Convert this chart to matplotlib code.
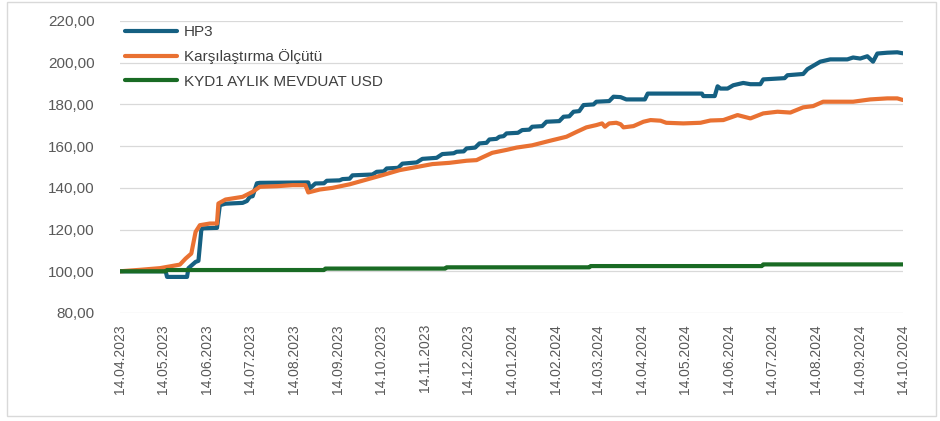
import numpy as np
import pandas as pd
import matplotlib
matplotlib.use('Agg')
import matplotlib.pyplot as plt
import matplotlib.dates as mdates
from matplotlib.patches import Rectangle
from matplotlib.ticker import FuncFormatter

plt.rcParams['font.family'] = ['Liberation Sans', 'DejaVu Sans']

# Fon getirileri (14.04.2023 = 100)
hp3_dates = [
    '2023-04-14', '2023-05-16', '2023-05-17', '2023-05-31', '2023-06-01', '2023-06-06',
    '2023-06-08', '2023-06-10', '2023-06-11', '2023-06-21', '2023-06-23', '2023-06-27',
    '2023-07-09', '2023-07-12', '2023-07-14', '2023-07-16', '2023-07-19', '2023-07-21',
    '2023-08-24', '2023-08-25', '2023-08-29', '2023-09-04', '2023-09-06', '2023-09-15',
    '2023-09-17', '2023-09-22', '2023-09-24', '2023-10-08', '2023-10-11', '2023-10-16',
    '2023-10-18', '2023-10-26', '2023-10-29', '2023-11-08', '2023-11-12', '2023-11-22',
    '2023-11-26', '2023-12-04', '2023-12-06', '2023-12-11', '2023-12-13', '2023-12-19',
    '2023-12-22', '2023-12-27', '2023-12-29', '2024-01-03', '2024-01-05', '2024-01-08',
    '2024-01-10', '2024-01-18', '2024-01-21', '2024-01-26', '2024-01-28', '2024-02-04',
    '2024-02-07', '2024-02-16', '2024-02-19', '2024-02-23', '2024-02-26', '2024-03-01',
    '2024-03-04', '2024-03-11', '2024-03-13', '2024-03-22', '2024-03-25', '2024-03-30',
    '2024-04-03', '2024-04-16', '2024-04-18', '2024-05-26', '2024-05-27', '2024-06-04',
    '2024-06-06', '2024-06-08', '2024-06-13', '2024-06-17', '2024-06-24', '2024-06-29',
    '2024-07-06', '2024-07-08', '2024-07-18', '2024-07-23', '2024-07-25', '2024-08-05',
    '2024-08-08', '2024-08-17', '2024-08-24', '2024-09-05', '2024-09-09', '2024-09-14',
    '2024-09-19', '2024-09-23', '2024-09-26', '2024-10-03', '2024-10-10', '2024-10-14',
]
hp3_values = [
    100.0, 100.0, 97.3, 97.3, 101.5, 104.5,
    105.0, 119.7, 120.6, 120.8, 131.7, 132.4,
    132.8, 133.7, 135.7, 136.0, 142.2, 142.4,
    142.6, 139.7, 142.1, 142.2, 143.4, 143.6,
    144.2, 144.4, 146.0, 146.4, 147.7, 147.9,
    149.3, 149.6, 151.6, 152.2, 153.9, 154.4,
    156.2, 156.6, 157.3, 157.5, 158.9, 159.3,
    161.3, 161.6, 163.2, 163.5, 164.5, 164.8,
    166.1, 166.4, 167.7, 167.9, 169.3, 169.6,
    171.7, 172.0, 174.1, 174.3, 176.5, 176.8,
    179.7, 180.0, 181.3, 181.6, 183.7, 183.5,
    182.4, 182.4, 185.2, 185.2, 184.0, 184.0,
    188.7, 187.6, 187.6, 189.2, 190.3, 189.7,
    189.7, 192.0, 192.4, 192.6, 194.0, 194.6,
    196.9, 200.5, 201.6, 201.6, 202.5, 202.0,
    203.1, 200.5, 204.4, 204.8, 205.0, 204.5,
]

bench_dates = [
    '2023-04-14', '2023-04-28', '2023-05-12', '2023-05-26', '2023-05-30', '2023-06-03',
    '2023-06-06', '2023-06-09', '2023-06-16', '2023-06-21', '2023-06-22', '2023-06-27',
    '2023-07-09', '2023-07-16', '2023-07-21', '2023-08-02', '2023-08-13', '2023-08-22',
    '2023-08-24', '2023-09-01', '2023-09-10', '2023-09-22', '2023-10-04', '2023-10-15',
    '2023-10-27', '2023-11-08', '2023-11-19', '2023-12-01', '2023-12-13', '2023-12-20',
    '2023-12-24', '2023-12-31', '2024-01-10', '2024-01-17', '2024-01-28', '2024-02-09',
    '2024-02-21', '2024-02-28', '2024-03-06', '2024-03-13', '2024-03-17', '2024-03-19',
    '2024-03-22', '2024-03-27', '2024-03-30', '2024-04-01', '2024-04-08', '2024-04-15',
    '2024-04-20', '2024-04-27', '2024-05-01', '2024-05-13', '2024-05-25', '2024-06-01',
    '2024-06-10', '2024-06-20', '2024-06-29', '2024-07-08', '2024-07-18', '2024-07-27',
    '2024-08-05', '2024-08-12', '2024-08-19', '2024-08-29', '2024-09-09', '2024-09-21',
    '2024-10-03', '2024-10-10', '2024-10-14',
]
bench_values = [
    100.0, 100.7, 101.5, 103.2, 106.1, 108.5,
    118.9, 122.1, 122.9, 122.9, 132.5, 134.4,
    135.7, 138.1, 140.5, 140.8, 141.3, 141.3,
    137.8, 139.2, 140.0, 141.7, 144.0, 146.1,
    148.5, 150.0, 151.4, 152.0, 153.0, 153.3,
    154.6, 156.8, 158.2, 159.3, 160.4, 162.5,
    164.5, 166.8, 169.0, 170.1, 170.9, 169.3,
    170.9, 171.2, 170.5, 169.0, 169.6, 171.7,
    172.5, 172.2, 171.2, 170.9, 171.2, 172.3,
    172.5, 174.9, 173.3, 175.7, 176.5, 176.1,
    178.6, 179.2, 181.3, 181.3, 181.3, 182.4,
    182.9, 182.9, 182.1,
]

kyd_dates = [
    '2023-04-14', '2023-05-16', '2023-05-17', '2023-09-04', '2023-09-05', '2023-11-28',
    '2023-11-29', '2024-03-08', '2024-03-09', '2024-07-07', '2024-07-08', '2024-10-14',
]
kyd_values = [
    100.0, 100.0, 100.6, 100.6, 101.3, 101.3,
    101.9, 101.9, 102.5, 102.5, 103.3, 103.3,
]

series_labels = ['HP3', 'Karşılaştırma Ölçütü', 'KYD1 AYLIK MEVDUAT USD']
series_colors = ['#156082', '#E97132', '#196B24']

tick_dates = pd.date_range('2023-04-14', '2024-10-14', freq=pd.DateOffset(months=1))
y_ticks = [80, 100, 120, 140, 160, 180, 200, 220]

fig = plt.figure(figsize=(9.4, 4.21), dpi=100)
ax = fig.add_axes([120 / 940, 1 - 313 / 421, 783 / 940, 292 / 421])

# thin grey frame around the whole chart
fig.patches.append(Rectangle((7 / 940, 1 - 416 / 421), 929 / 940, 414 / 421,
                             transform=fig.transFigure, fill=False,
                             edgecolor='#D9D9D9', linewidth=1.0))

all_series = [(hp3_dates, hp3_values), (bench_dates, bench_values), (kyd_dates, kyd_values)]
for (d, v), lab, col in zip(all_series, series_labels, series_colors):
    ax.plot(pd.to_datetime(d), v, color=col, lw=3.0, label=lab,
            solid_capstyle='round', solid_joinstyle='round')

ax.set_xlim(pd.Timestamp('2023-04-14'), pd.Timestamp('2024-10-14'))
ax.set_ylim(80, 220)
ax.set_yticks(y_ticks)
ax.yaxis.set_major_formatter(FuncFormatter(lambda v, p: f'{v:.2f}'.replace('.', ',')))
ax.set_xticks(tick_dates)
ax.xaxis.set_major_formatter(mdates.DateFormatter('%d.%m.%Y'))

ax.grid(axis='y', color='#D9D9D9', linewidth=0.9)
ax.set_axisbelow(True)
for s in ax.spines.values():
    s.set_visible(False)

ax.tick_params(axis='y', length=0, pad=18, labelsize=11, labelcolor='#595959')
ax.tick_params(axis='x', length=0, pad=8, labelsize=10, labelcolor='#595959',
               labelrotation=90)
for t in ax.get_xticklabels():
    t.set_ha('center')
    t.set_va('top')

leg = ax.legend(loc='upper left', bbox_to_anchor=(125 / 940, 1 - 25 / 421),
                bbox_transform=fig.transFigure, frameon=False, fontsize=11,
                handlelength=3.4, handletextpad=0.45, labelspacing=0.68,
                borderpad=0, borderaxespad=0)
for t in leg.get_texts():
    t.set_color('#404040')
for h in leg.get_lines():
    h.set_linewidth(3.0)

fig.savefig('out.png', dpi=100, facecolor='white')
